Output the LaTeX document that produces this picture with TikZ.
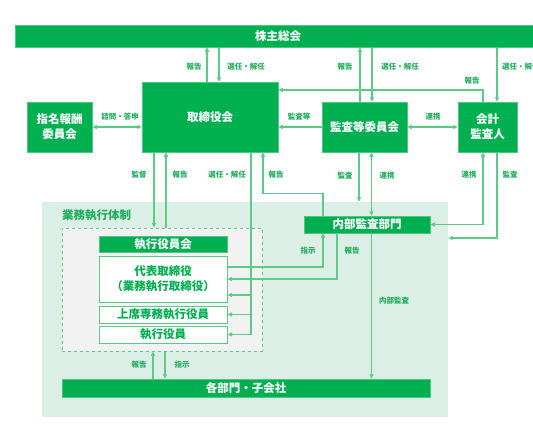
\documentclass[tikz,border=0pt]{standalone}
\usepackage{fontspec}
\setmainfont{Noto Sans CJK JP}
\usetikzlibrary{arrows.meta,calc}
\definecolor{G}{HTML}{00AF50}
\definecolor{LG}{HTML}{5CCB88}
\definecolor{TG}{HTML}{22AE5C}
\definecolor{RG}{HTML}{DCEFE6}
\definecolor{DG}{HTML}{F2F2F2}
\tikzset{
  gbox/.style={fill=G, draw=G!70, line width=0.5pt, text=white, inner sep=0pt, align=center,
    font=\fontsize{11.5}{15}\selectfont\bfseries},
  wbox/.style={fill=white, draw=LG, line width=1pt, text=G, inner sep=0pt, align=center,
    font=\fontsize{11.5}{15}\selectfont\bfseries},
  conn/.style={draw=LG, line width=1.1pt, -{Triangle[length=4.5pt,width=4pt]}},
  conn2/.style={draw=LG, line width=1.1pt, {Triangle[length=4.5pt,width=4pt]}-{Triangle[length=4.5pt,width=4pt]}},
  plain/.style={draw=LG, line width=1.1pt},
  lbl/.style={text=TG, inner sep=0pt, font=\fontsize{7.5}{9}\selectfont\bfseries},
}
\begin{document}
\begin{tikzpicture}[x=1pt,y=-1pt]
\useasboundingbox (0,0) rectangle (533,426);
% region and dashed box
\node[fill=RG, draw=none, inner sep=0pt, minimum width=406pt, minimum height=215pt] (rg) at (245,309.5) {};
\node[fill=DG, draw=LG, dashed, line width=0.8pt, inner sep=0pt, minimum width=200pt, minimum height=123pt] (db) at (162,289.5) {};
\node[lbl, anchor=west, font=\fontsize{11.5}{14}\selectfont\bfseries] (rgl) at (62,215) {業務執行体制};
% boxes
\node[gbox, minimum width=526pt, minimum height=22pt] (top) at (278,36) {株主総会};
\node[gbox, minimum width=136pt, minimum height=70pt] (bd) at (210,117) {取締役会};
\node[gbox, minimum width=65pt, minimum height=50pt] (sm) at (59.5,127) {指名報酬\\委員会};
\node[gbox, minimum width=85pt, minimum height=50pt] (kt) at (364.5,127) {監査等委員会};
\node[gbox, minimum width=59pt, minimum height=50pt] (ka) at (487.5,127) {会計\\監査人};
\node[gbox, minimum width=128pt, minimum height=16pt] (y0) at (163,244) {執行役員会};
\node[wbox, minimum width=128pt, minimum height=46pt] (y1) at (163,279) {代表取締役\\（業務執行取締役）};
\node[wbox, minimum width=128pt, minimum height=17pt] (y2) at (163,314.5) {上席専務執行役員};
\node[wbox, minimum width=128pt, minimum height=17pt] (y3) at (163,334.5) {執行役員};
\node[gbox, minimum width=126pt, minimum height=17pt] (nb) at (367,224.5) {内部監査部門};
\node[gbox, minimum width=368pt, minimum height=18pt] (kb) at (246,388) {各部門・子会社};
% coordinates
\coordinate (sel) at ([xshift=41pt]bd.south);
\coordinate (y1a) at ([yshift=-16pt]y1.east);
\coordinate (kaud) at ([xshift=-5.5pt]kt.south);
\coordinate (krn) at ([xshift=7pt]kt.south);
\coordinate (aud) at ([yshift=71.5pt]rg.east);
\coordinate (c1) at ([xshift=-9pt]db.south);
\coordinate (c2) at ([xshift=3pt]db.south);
\coordinate (kan) at ([xshift=-56pt]bd.south);
\coordinate (hok) at ([xshift=-44pt]bd.south);
% top connections
\draw[conn] ([xshift=-3pt]bd.north) -- ([xshift=-3pt]bd.north |- top.south);
\draw[conn] ([xshift=9pt]bd.north |- top.south) -- ([xshift=9pt]bd.north);
\draw[conn] ([xshift=-4.5pt]kt.north) -- ([xshift=-4.5pt]kt.north |- top.south);
\draw[conn] ([xshift=7.5pt]kt.north |- top.south) -- ([xshift=7.5pt]kt.north);
\draw[conn] ([xshift=9.5pt]ka.north |- top.south) -- ([xshift=9.5pt]ka.north);
\draw[conn] ([xshift=-4.5pt]ka.north) |- ([yshift=27pt]bd.east);
% horizontal connections
\draw[conn2] (sm.east) -- (sm.east -| bd.west);
\draw[conn] (kt.west) -- (kt.west -| bd.east);
\draw[conn2] (kt.east) -- (kt.east -| ka.west);
% below board
\draw[conn] (kan) -- (kan |- db.north);
\draw[conn] (hok |- db.north) -- (hok);
\draw[conn] (sel) |- (y3.east);
\draw[conn] (sel |- y1a) -- (y1a);
\draw[conn] (sel |- y2.east) -- (y2.east);
\draw[conn] ([xshift=-44pt]nb.north) -- ++(0,-22) -| ([xshift=53pt]bd.south);
% audit committee down
\draw[conn] (kaud) -- (kaud |- rg.north);
\draw[conn2] (krn) -- (krn |- nb.north);
\draw[conn] (krn |- nb.south) -- (krn |- kb.north);
% accounting auditor down
\draw[conn2] ([xshift=-4.5pt]ka.south) |- (nb.east);
\draw[conn] ([xshift=9.5pt]ka.south) |- (aud);
% internal audit <-> president
\draw[conn] ([yshift=12pt]y1.east) -| ([xshift=-44pt]nb.south);
\draw[conn] ([xshift=-30pt]nb.south) |- (y1.east);
% executive <-> departments
\draw[conn] (c1 |- kb.north) -- (c1);
\draw[conn] (c2) -- (c2 |- kb.north);
% labels
\node[lbl] (l1) at (194,67) {報告};
\node[lbl] (l2) at (246,67) {選任・解任};
\node[lbl] (l3) at (345,67) {報告};
\node[lbl] (l4) at (400,67) {選任・解任};
\node[lbl, anchor=west] (l5) at (502,67) {選任・解任};
\node[lbl] (l6) at (472,81) {報告};
\node[lbl] (l7) at (120,117) {諮問・答申};
\node[lbl] (l8) at (299,117) {監査等};
\node[lbl] (l9) at (433,117) {連携};
\node[lbl] (l10) at (139,175) {監督};
\node[lbl] (l11) at (180,175) {報告};
\node[lbl] (l12) at (227,175) {選任・解任};
\node[lbl] (l13) at (276,175) {報告};
\node[lbl] (l14) at (345,176) {監査};
\node[lbl] (l15) at (387,176) {連携};
\node[lbl] (l16) at (469,175) {連携};
\node[lbl] (l17) at (510,175) {監査};
\node[lbl] (l18) at (308,251) {指示};
\node[lbl] (l19) at (352,251) {報告};
\node[lbl] (l20) at (394,301) {内部監査};
\node[lbl] (l21) at (139,365) {報告};
\node[lbl] (l22) at (182,365) {指示};
\end{tikzpicture}
\end{document}
